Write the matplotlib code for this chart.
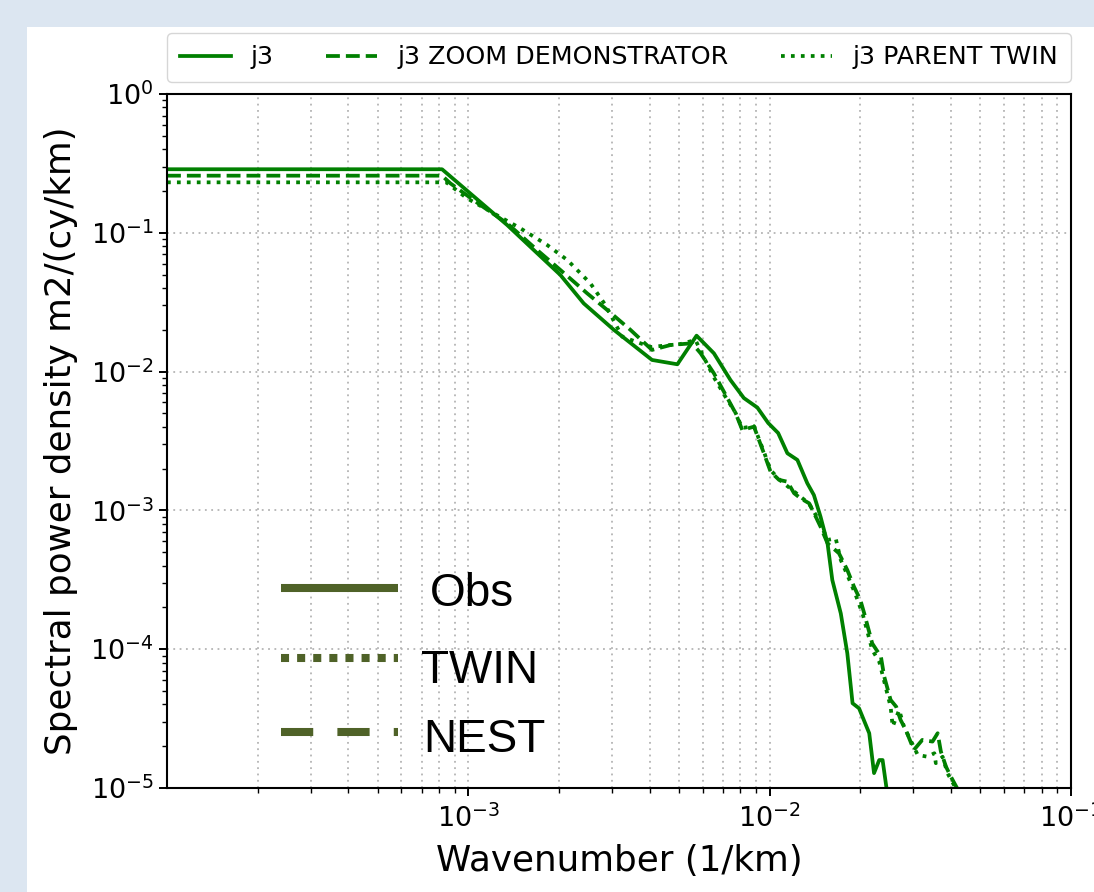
####################################### SPECTRAL POWER DENSITY - j3 ALONG-TRACK #######################################

import matplotlib.pyplot as plt
from matplotlib.lines import Line2D
from matplotlib.patches import Rectangle
from matplotlib.ticker import LogLocator, NullFormatter


################################################ Values ################################################
# Wavenumber (1/km) and PSD (m2/(cy/km)) for each series
k_obs = [1.0e-4, 8.18e-4, 1.345e-3, 1.648e-3, 2.02e-3, 2.415e-3, 3.04e-3, 4.07e-3, 4.94e-3, 5.72e-3,
         6.53e-3, 7.41e-3, 8.21e-3, 9.10e-3, 9.89e-3, 1.067e-2, 1.145e-2, 1.236e-2, 1.333e-2, 1.402e-2,
         1.475e-2, 1.556e-2, 1.614e-2, 1.722e-2, 1.81e-2, 1.884e-2, 1.98e-2, 2.14e-2, 2.22e-2, 2.31e-2,
         2.37e-2, 2.46e-2]
psd_obs = [0.287, 0.287, 0.1138, 0.0752, 0.0497, 0.0310, 0.0200, 0.01213, 0.01129, 0.01815,
           0.01355, 8.70e-3, 6.45e-3, 5.51e-3, 4.26e-3, 3.61e-3, 2.58e-3, 2.31e-3, 1.57e-3, 1.29e-3,
           9.01e-4, 5.79e-4, 3.15e-4, 1.81e-4, 9.34e-5, 4.08e-5, 3.75e-5, 2.48e-5, 1.28e-5, 1.59e-5,
           1.59e-5, 8.9e-6]

k_zoom = [1.0e-4, 8.18e-4, 8.71e-4, 1.097e-3, 1.345e-3, 1.691e-3, 2.02e-3, 2.477e-3, 2.89e-3, 3.45e-3,
          4.07e-3, 4.69e-3, 5.53e-3, 5.90e-3, 6.53e-3, 7.05e-3, 7.71e-3, 8.11e-3, 8.87e-3, 9.57e-3,
          1.007e-2, 1.074e-2, 1.145e-2, 1.205e-2, 1.268e-2, 1.352e-2, 1.422e-2, 1.475e-2, 1.556e-2, 1.698e-2,
          1.81e-2, 1.905e-2, 2.00e-2, 2.06e-2, 2.19e-2, 2.34e-2, 2.40e-2, 2.52e-2, 2.63e-2, 2.72e-2,
          2.83e-2, 3.01e-2, 3.21e-2, 3.47e-2, 3.61e-2, 3.70e-2, 3.85e-2, 3.99e-2, 4.25e-2]
psd_zoom = [0.258, 0.258, 0.2274, 0.1585, 0.1171, 0.0752, 0.0540, 0.0367, 0.0278, 0.0200,
            0.01432, 0.01555, 0.0160, 0.01355, 9.72e-3, 7.16e-3, 5.01e-3, 3.80e-3, 4.01e-3, 2.58e-3,
            1.90e-3, 1.66e-3, 1.61e-3, 1.33e-3, 1.22e-3, 1.125e-3, 9.01e-4, 7.63e-4, 5.79e-4, 4.91e-4,
            3.72e-4, 2.82e-4, 2.26e-4, 1.81e-4, 1.10e-4, 8.83e-5, 6.34e-5, 4.31e-5, 3.85e-5, 3.09e-5,
            2.62e-5, 1.88e-5, 2.22e-5, 2.16e-5, 2.48e-5, 1.83e-5, 1.42e-5, 1.21e-5, 9.4e-6]

k_twin = [1.0e-4, 8.45e-4, 9.9e-4, 1.213e-3, 1.489e-3, 1.826e-3, 2.13e-3, 2.54e-3, 2.85e-3, 3.24e-3,
          4.03e-3, 5.06e-3, 5.67e-3, 6.04e-3, 6.52e-3, 7.14e-3, 7.71e-3, 8.11e-3, 8.87e-3, 9.57e-3,
          1.007e-2, 1.089e-2, 1.205e-2, 1.35e-2, 1.456e-2, 1.556e-2, 1.656e-2, 1.722e-2, 1.81e-2, 1.93e-2,
          2.04e-2, 2.19e-2, 2.31e-2, 2.52e-2, 2.56e-2, 2.69e-2, 2.79e-2, 3.10e-2, 3.34e-2, 3.52e-2,
          3.56e-2, 3.75e-2, 3.89e-2, 4.09e-2, 4.32e-2]
psd_twin = [0.231, 0.231, 0.1773, 0.1382, 0.1077, 0.0817, 0.0637, 0.0433, 0.0302, 0.01784,
            0.01504, 0.0158, 0.0169, 0.01274, 9.14e-3, 6.56e-3, 5.03e-3, 3.92e-3, 4.05e-3, 2.64e-3,
            1.95e-3, 1.63e-3, 1.37e-3, 1.12e-3, 8.53e-4, 6.12e-4, 6.30e-4, 4.39e-4, 3.43e-4, 2.46e-4,
            1.76e-4, 9.87e-5, 8.13e-5, 3.85e-5, 2.77e-5, 3.65e-5, 2.77e-5, 1.73e-5, 1.68e-5, 1.78e-5,
            1.51e-5, 1.68e-5, 1.28e-5, 1.05e-5, 9.0e-6]

series_labels = ["j3", "j3 ZOOM DEMONSTRATOR", "j3 PARENT TWIN"]
key_labels = ["Obs", "TWIN", "NEST"]  # pasted-in key, bottom left


################################################## Figure / page frame ##################################################
W_px, H_px = 1094, 892
fig = plt.figure(figsize = (W_px / 100, H_px / 100), dpi = 100, facecolor = '#dce6f1')
fig.add_artist(Rectangle((27 / W_px, 0), 1, 1 - 27 / H_px, transform = fig.transFigure,
                         facecolor = 'white', edgecolor = 'none', zorder = 0))

def fx(px):
    return px / W_px

def fy(py):
    return 1 - py / H_px

ax = fig.add_axes([fx(167), fy(788), fx(1071) - fx(167), fy(94) - fy(788)])
ax.set_facecolor('white')

GREEN = 'green'
LW = 2.7
ax.plot(k_obs, psd_obs, color = GREEN, lw = LW, linestyle = '-', label = series_labels[0])
ax.plot(k_zoom, psd_zoom, color = GREEN, lw = LW, linestyle = '--', label = series_labels[1])
ax.plot(k_twin, psd_twin, color = GREEN, lw = LW, linestyle = ':', label = series_labels[2])

ax.set_xscale('log')
ax.set_yscale('log')
ax.set_xlim([1.0e-4, 1.0e-1])
ax.set_ylim([1.0e-5, 1.0])
ax.set_xticks([1e-3, 1e-2, 1e-1])
ax.xaxis.set_minor_locator(LogLocator(base = 10, subs = range(2, 10), numticks = 20))
ax.xaxis.set_minor_formatter(NullFormatter())
ax.yaxis.set_minor_locator(LogLocator(base = 10, subs = range(2, 10), numticks = 20))
ax.yaxis.set_minor_formatter(NullFormatter())

ax.grid(True, which = 'major', linestyle = (0, (1, 2.5)), color = '#b4b4b4', lw = 1.3)
ax.xaxis.grid(True, which = 'minor', linestyle = (0, (1, 2.5)), color = '#b4b4b4', lw = 1.3)

ax.tick_params(which = 'major', labelsize = 19.5, length = 6, width = 1.4)
ax.tick_params(axis = 'x', which = 'major', pad = 6)
ax.tick_params(which = 'minor', length = 3.5, width = 1.0)
for s in ax.spines.values():
    s.set_linewidth(1.5)

ax.set_xlabel("Wavenumber (1/km)", fontsize = 25.7, labelpad = 8)
ax.set_ylabel("Spectral power density m2/(cy/km)", fontsize = 25.7, labelpad = 9)

ax.legend(loc = 'lower left', bbox_to_anchor = (0, 1.017, 1, 0.07), mode = 'expand', ncol = 3,
          borderaxespad = 0, fontsize = 18.3, handlelength = 2.0, borderpad = 0.5)


###################################### Pasted key (Obs / TWIN / NEST), olive green ######################################
OLIVE = '#4f6228'
key_y = [588, 658, 732]
key_styles = [dict(linestyle = '-'),
              dict(dashes = (1, 1), dash_capstyle = 'butt'),
              dict(dashes = (4, 3), dash_capstyle = 'butt')]
text_x = [430, 421, 423]
text_base = [606, 683, 752]
for lab, yk, st, tx, tb in zip(key_labels, key_y, key_styles, text_x, text_base):
    fig.add_artist(Line2D([fx(281), fx(398)], [fy(yk), fy(yk)], transform = fig.transFigure,
                          color = OLIVE, lw = 5.8, solid_capstyle = 'butt', **st))
    fig.text(fx(tx), fy(tb), lab, fontsize = 33, family = 'Liberation Sans', va = 'baseline', ha = 'left')

plt.savefig("out.png", dpi = 100, facecolor = fig.get_facecolor())
